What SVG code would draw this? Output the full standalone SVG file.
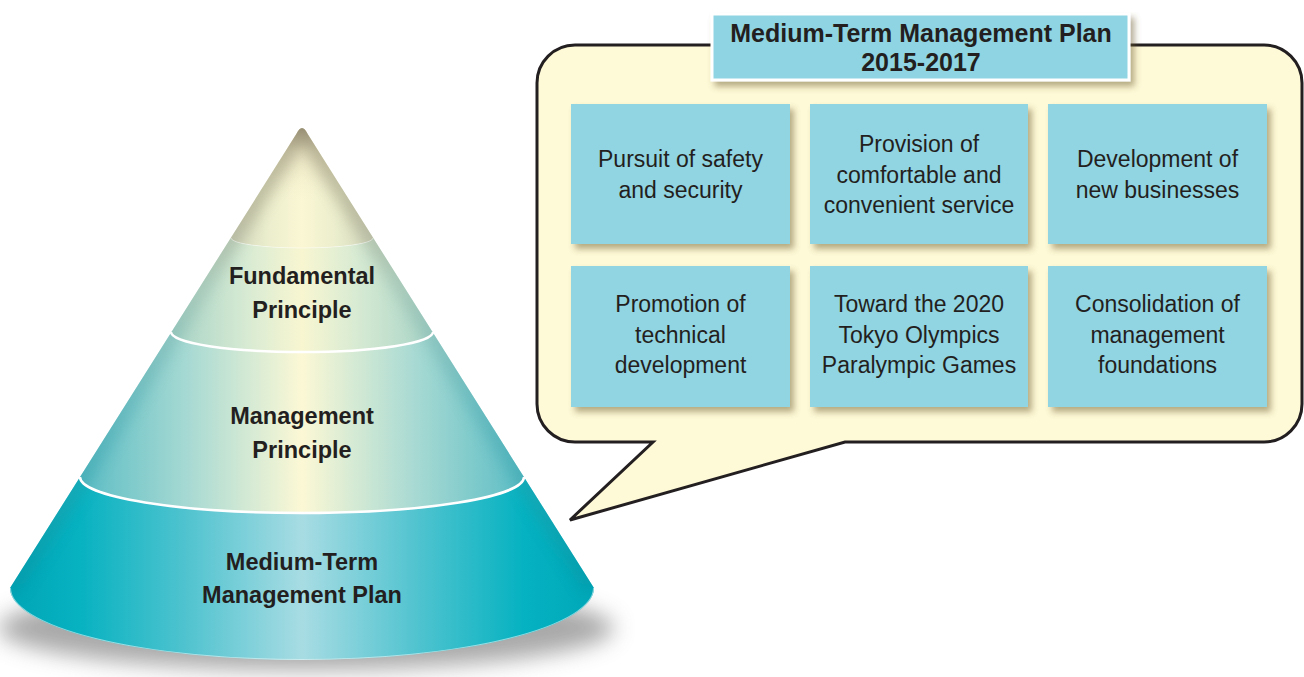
<svg xmlns="http://www.w3.org/2000/svg" width="1304" height="677" viewBox="0 0 1304 677">
<style>
.t{font-family:"Liberation Sans",Arial,sans-serif;fill:#231f20;text-anchor:middle}
.b{font-weight:bold}
.cone{font-size:23.5px;font-weight:bold}
.box{fill:#91d4e2;filter:url(#sh)}
.bt{font-size:23px}
</style>
<defs>
<filter id="sh" x="-10%" y="-10%" width="125%" height="130%">
<feGaussianBlur in="SourceAlpha" stdDeviation="3" result="b"/>
<feOffset in="b" dx="4" dy="5" result="o"/>
<feFlood flood-color="#6e5e30" flood-opacity="0.5"/>
<feComposite operator="in" in2="o" result="s"/>
<feMerge><feMergeNode in="s"/><feMergeNode in="SourceGraphic"/></feMerge>
</filter>
<filter id="blur10" x="-20%" y="-80%" width="140%" height="260%"><feGaussianBlur stdDeviation="11"/></filter>
<filter id="blur8" x="-20%" y="-20%" width="140%" height="140%"><feGaussianBlur stdDeviation="7"/></filter>
<clipPath id="coneClip"><path d="M296.3,134 Q302,122 307.7,134 L594,588 A292,72 0 0 1 10,588 Z"/></clipPath>
<linearGradient id="g0" gradientUnits="userSpaceOnUse" x1="230" y1="0" x2="374" y2="0">
<stop offset="0" stop-color="#d2d6bc"/><stop offset="0.25" stop-color="#eaedcc"/><stop offset="0.5" stop-color="#fbf7d4"/><stop offset="0.75" stop-color="#eaedcc"/><stop offset="1" stop-color="#d2d6bc"/>
</linearGradient>
<linearGradient id="tip" gradientUnits="userSpaceOnUse" x1="0" y1="125" x2="0" y2="200">
<stop offset="0" stop-color="#8f856c" stop-opacity="0.9"/><stop offset="0.35" stop-color="#c2bb9c" stop-opacity="0.35"/><stop offset="1" stop-color="#e6e4c4" stop-opacity="0"/>
</linearGradient>
<linearGradient id="edge" gradientUnits="userSpaceOnUse" x1="0" y1="125" x2="0" y2="590">
<stop offset="0" stop-color="#7d735a"/><stop offset="0.2" stop-color="#8e8a72"/><stop offset="0.35" stop-color="#8fb0a2"/><stop offset="0.6" stop-color="#4fa7ae"/><stop offset="1" stop-color="#0490a0"/>
</linearGradient>
<linearGradient id="g1" gradientUnits="userSpaceOnUse" x1="171" y1="0" x2="433" y2="0">
<stop offset="0" stop-color="#a6d3c7"/><stop offset="0.3" stop-color="#d9ebd3"/><stop offset="0.5" stop-color="#f8f6d1"/><stop offset="0.7" stop-color="#d9ebd3"/><stop offset="1" stop-color="#a6d3c7"/>
</linearGradient>
<linearGradient id="g2" gradientUnits="userSpaceOnUse" x1="80" y1="0" x2="524" y2="0">
<stop offset="0" stop-color="#5bbdc5"/><stop offset="0.25" stop-color="#a9dad3"/><stop offset="0.5" stop-color="#fcf8d5"/><stop offset="0.75" stop-color="#a9dad3"/><stop offset="1" stop-color="#5bbdc5"/>
</linearGradient>
<linearGradient id="g3" gradientUnits="userSpaceOnUse" x1="10" y1="0" x2="594" y2="0">
<stop offset="0" stop-color="#00a6b6"/><stop offset="0.12" stop-color="#07b2c1"/><stop offset="0.3" stop-color="#4fc3cf"/><stop offset="0.5" stop-color="#a8dce3"/><stop offset="0.7" stop-color="#4fc3cf"/><stop offset="0.88" stop-color="#05b2c1"/><stop offset="1" stop-color="#00a8b8"/>
</linearGradient>
</defs>
<rect width="1304" height="677" fill="#ffffff"/>

<g id="cone-shadow">
<ellipse cx="306" cy="628" rx="308" ry="42" fill="#555" opacity="0.5" filter="url(#blur10)"/>
</g>

<g id="cone">
<g clip-path="url(#coneClip)">
<path d="M-10,100 H620 V238 H373 A71,10 0 0 1 231,238 H-10 Z" fill="url(#g0)"/>
<path d="M-10,100 H620 V238 H373 A71,10 0 0 1 231,238 H-10 Z" fill="url(#tip)"/>
<path d="M-10,238 H231 A71,10 0 0 0 373,238 H620 V332 H433 A131,20 0 0 1 171,332 H-10 Z" fill="url(#g1)"/>
<path d="M-10,332 H171 A131,20 0 0 0 433,332 H620 V477 H524 A222,36 0 0 1 80,477 H-10 Z" fill="url(#g2)"/>
<path d="M-10,477 H80 A222,36 0 0 0 524,477 H620 V677 H-10 Z" fill="url(#g3)"/>
<path d="M302,125 L10,588 M302,125 L594,588" stroke="url(#edge)" stroke-width="22" opacity="0.42" fill="none" filter="url(#blur8)"/>
<path d="M231,238 A71,10 0 0 0 373,238" fill="none" stroke="#ffffff" stroke-width="1" opacity="0.4"/>
<path d="M10,588 A292,72 0 0 0 594,588" fill="none" stroke="#e8f6f6" stroke-width="2" opacity="0.6"/>
</g>
<path d="M171,332 A131,20 0 0 0 433,332" fill="none" stroke="#ffffff" stroke-width="2.5"/>
<path d="M80,477 A222,36 0 0 0 524,477" fill="none" stroke="#ffffff" stroke-width="2.5"/>
</g>

<g id="layer-fundamental">
<text class="t cone" x="302" y="284">Fundamental</text>
<text class="t cone" x="302" y="318">Principle</text>
</g>
<g id="layer-management">
<text class="t cone" x="302" y="424">Management</text>
<text class="t cone" x="302" y="458">Principle</text>
</g>
<g id="layer-plan">
<text class="t cone" x="302" y="570">Medium-Term</text>
<text class="t cone" x="302" y="603">Management Plan</text>
</g>

<g id="bubble">
<path d="M575,45 H1264 A38,38 0 0 1 1302,83 V404 A38,38 0 0 1 1264,442 H845 L570,520 L653,442 H575 A38,38 0 0 1 537,404 V83 A38,38 0 0 1 575,45 Z" fill="#fef9d7" stroke="#231f20" stroke-width="3" stroke-linejoin="miter"/>
</g>

<g id="title">
<rect x="712" y="14" width="417" height="66" fill="#8fd4e2" stroke="#ffffff" stroke-width="3" filter="url(#sh)"/>
<text class="t b" x="921" y="42" font-size="25">Medium-Term Management Plan</text>
<text class="t b" x="921" y="71" font-size="25">2015-2017</text>
</g>

<g id="box-safety">
<rect class="box" x="571" y="104" width="219" height="140"/>
<text class="t bt" x="680.5" y="167">Pursuit of safety</text>
<text class="t bt" x="680.5" y="198">and security</text>
</g>
<g id="box-service">
<rect class="box" x="810" y="104" width="218" height="140"/>
<text class="t bt" x="919" y="152">Provision of</text>
<text class="t bt" x="919" y="183">comfortable and</text>
<text class="t bt" x="919" y="213">convenient service</text>
</g>
<g id="box-business">
<rect class="box" x="1048" y="104" width="219" height="140"/>
<text class="t bt" x="1157.5" y="167">Development of</text>
<text class="t bt" x="1157.5" y="198">new businesses</text>
</g>
<g id="box-technical">
<rect class="box" x="571" y="266" width="219" height="141"/>
<text class="t bt" x="680.5" y="312">Promotion of</text>
<text class="t bt" x="680.5" y="343">technical</text>
<text class="t bt" x="680.5" y="373">development</text>
</g>
<g id="box-olympics">
<rect class="box" x="810" y="266" width="218" height="141"/>
<text class="t bt" x="919" y="312">Toward the 2020</text>
<text class="t bt" x="919" y="343">Tokyo Olympics</text>
<text class="t bt" x="919" y="373">Paralympic Games</text>
</g>
<g id="box-foundations">
<rect class="box" x="1048" y="266" width="219" height="141"/>
<text class="t bt" x="1157.5" y="312">Consolidation of</text>
<text class="t bt" x="1157.5" y="343">management</text>
<text class="t bt" x="1157.5" y="373">foundations</text>
</g>
</svg>
